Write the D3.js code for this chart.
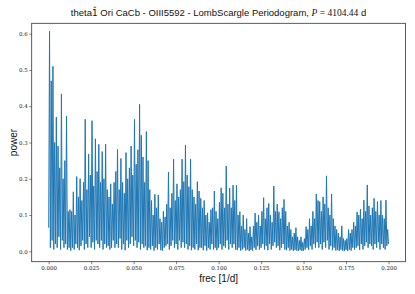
<!DOCTYPE html>
<html><head><meta charset="utf-8">
<script src="https://cdn.jsdelivr.net/npm/d3@7/dist/d3.min.js"></script>
<style>
html,body{margin:0;padding:0;background:#fff;}
svg{display:block;}
</style></head>
<body>
<svg id="chart" width="415" height="294"></svg>
<script>
// Frequency grid of the periodogram (1/d)
const freqStart = 0.0;
const freqStep = 0.0005;
// Local maxima of the power (one per 0.001 1/d)
const peakPower = [
.607,.47,.51,.30,.37,.29,.23,.434,.20,.25,
.373,.11,.115,.11,.164,.10,.206,.15,.20,.14,
.19,.364,.17,.268,.21,.36,.18,.31,.22,.295,
.19,.275,.20,.295,.17,.15,.186,.13,.19,.22,
.281,.17,.256,.19,.16,.272,.20,.23,.29,.21,
.364,.24,.28,.405,.32,.26,.19,.33,.25,.17,
.14,.10,.157,.12,.155,.09,.08,.11,.095,.13,
.218,.12,.16,.254,.14,.186,.15,.17,.254,.192,
.293,.21,.178,.254,.17,.15,.13,.192,.166,.146,
.12,.14,.10,.106,.08,.115,.12,.166,.11,.09,
.135,.175,.16,.12,.235,.13,.174,.12,.182,.14,
.182,.10,.109,.07,.10,.06,.09,.05,.068,.04,
.07,.105,.08,.10,.07,.11,.148,.09,.12,.132,
.10,.08,.18,.11,.13,.109,.09,.12,.143,.11,
.07,.08,.06,.04,.05,.065,.04,.03,.04,.025,
.035,.068,.06,.09,.07,.11,.09,.158,.14,.137,
.11,.15,.13,.208,.12,.10,.158,.09,.07,.06,
.05,.04,.07,.035,.03,.035,.06,.05,.06,.08,
.07,.108,.10,.116,.09,.141,.11,.183,.125,.10,
.12,.146,.11,.137,.10,.14,.10,.09,.141,.06
];
// Local minima between them
const troughPower = [
.065,.01,.03,.005,.02,.01,.04,.005,.03,.01,
.02,.005,.01,.002,.01,.005,.02,.01,.003,.015,
.03,.005,.02,.01,.04,.01,.025,.005,.03,.02,
.01,.03,.005,.02,.01,.015,.005,.01,.03,.01,
.02,.01,.035,.005,.02,.003,.03,.01,.02,.04,
.015,.03,.01,.025,.005,.02,.01,.015,.003,.01,
.005,.015,.002,.01,.005,.02,.003,.002,.01,.015,
.02,.005,.015,.03,.01,.02,.005,.03,.01,.025,
.01,.02,.005,.015,.003,.01,.005,.02,.003,.01,
.01,.003,.015,.002,.01,.005,.02,.005,.01,.003,
.01,.02,.005,.015,.01,.03,.005,.02,.01,.02,
.005,.003,.01,.002,.005,.01,.002,.005,.001,.004,
.002,.01,.004,.015,.005,.01,.02,.005,.015,.003,
.02,.005,.015,.025,.01,.015,.003,.01,.02,.005,
.003,.01,.002,.005,.001,.004,.002,.001,.004,.001,
.002,.005,.01,.004,.015,.005,.02,.01,.025,.01,
.02,.005,.025,.01,.03,.005,.015,.003,.01,.002,
.004,.001,.005,.002,.001,.004,.001,.005,.002,.01,
.005,.01,.015,.004,.02,.005,.015,.025,.01,.02,
.015,.005,.02,.01,.025,.005,.02,.01,.005,.015,
.02
];
const xTicks = [0.000,0.025,0.050,0.075,0.100,0.125,0.150,0.175,0.200];
const yTicks = [0.0,0.1,0.2,0.3,0.4,0.5,0.6];
const xDomain = [-0.01, 0.21];
const yDomain = [-0.0287, 0.6286];

// Build the series: trough, peak, trough, peak ...
const series = [];
troughPower.forEach((t, i) => {
  series.push({f: freqStart + (2*i)*freqStep, p: t});
  if (i < peakPower.length) series.push({f: freqStart + (2*i+1)*freqStep, p: peakPower[i]});
});

const L = 31.7, R = 405.5, T = 23.3, B = 261.7;
const svg = d3.select("#chart");
const x = d3.scaleLinear().domain(xDomain).range([L, R]);
const y = d3.scaleLinear().domain(yDomain).range([B, T]);

svg.append("path")
  .datum(series)
  .attr("fill", "none")
  .attr("stroke", "#1f77b4")
  .attr("stroke-width", 1.0)
  .attr("stroke-linejoin", "bevel")
  .attr("d", d3.line().x(d => x(d.f)).y(d => y(d.p)));

const tickFont = "'DejaVu Serif', 'Liberation Serif', serif";
const xAxis = svg.append("g").attr("transform", `translate(0,${B})`)
  .call(d3.axisBottom(x).tickValues(xTicks).tickFormat(d3.format(".3f")).tickSize(2.5).tickPadding(2));
const yAxis = svg.append("g").attr("transform", `translate(${L},0)`)
  .call(d3.axisLeft(y).tickValues(yTicks).tickFormat(d3.format(".1f")).tickSize(2.5).tickPadding(1.5));
[xAxis, yAxis].forEach(a => {
  a.select(".domain").remove();
  a.selectAll("line").attr("stroke", "#333").attr("stroke-width", 0.6);
  a.selectAll("text").attr("font-family", tickFont).attr("font-size", 5.5).attr("fill", "#222");
});

// frame
svg.append("rect").attr("x", L).attr("y", T).attr("width", R - L).attr("height", B - T)
  .attr("fill", "none").attr("stroke", "#333").attr("stroke-width", 0.8);

const sans = "'Liberation Sans', 'DejaVu Sans', sans-serif";
// title
const title = svg.append("text").attr("x", (L + R) / 2).attr("y", 16)
  .attr("text-anchor", "middle").attr("font-family", sans).attr("font-size", 9.5).attr("fill", "#111");
title.append("tspan").text("theta");
title.append("tspan").attr("font-family", "'DejaVu Sans', sans-serif").attr("font-size", 9).text("1\u0302");
title.append("tspan").text(" Ori CaCb - OIII5592 - LombScargle Periodogram, ");
title.append("tspan").attr("font-family", "'Liberation Serif', serif").attr("font-style", "italic").text("P");
title.append("tspan").attr("font-family", "'Liberation Serif', serif").text(" = 4104.44");
title.append("tspan").text(" d");

svg.append("text").attr("x", (L + R) / 2).attr("y", 282)
  .attr("text-anchor", "middle").attr("font-family", sans).attr("font-size", 10).attr("fill", "#111")
  .text("frec [1/d]");
svg.append("text").attr("transform", `translate(17,${(T + B) / 2}) rotate(-90)`)
  .attr("text-anchor", "middle").attr("font-family", sans).attr("font-size", 10).attr("fill", "#111")
  .text("power");
</script>
</body></html>
